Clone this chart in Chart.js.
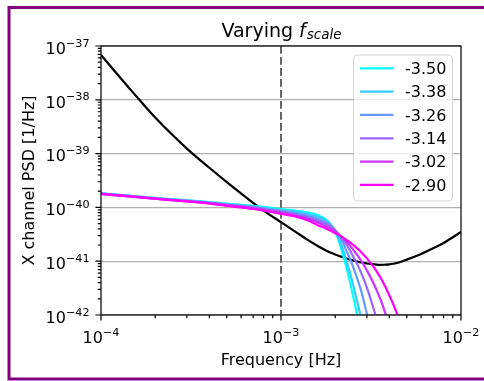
<!DOCTYPE html>
<html>
<head>
<meta charset="utf-8">
<script src="https://cdn.jsdelivr.net/npm/chart.js@4.4.1/dist/chart.umd.min.js"></script>
<style>
  html, body { margin: 0; padding: 0; background: #fff; }
  canvas { display: block; }
</style>
</head>
<body>
<canvas id="psdChart" width="484" height="381"></canvas>
<script>
// frequency grid [Hz]
const freqs = [1e-4, 1.5e-4, 2e-4, 3e-4, 4e-4, 5e-4, 6e-4, 7e-4, 8e-4, 1e-3,
    1.2e-3, 1.4e-3, 1.6e-3, 1.8e-3, 1.9e-3, 2.0e-3, 2.1e-3, 2.2e-3, 2.3e-3, 2.4e-3,
    2.5e-3, 2.6e-3, 2.7e-3, 2.8e-3, 3.0e-3, 3.2e-3, 3.4e-3, 3.6e-3, 3.8e-3, 4.0e-3,
    4.2e-3, 4.4e-3, 4.6e-3, 5e-3, 6e-3, 7e-3, 8e-3, 1e-2];

// black noise curve
const noisePsd = [6.80e-38, 1.39e-38, 4.67e-39, 1.24e-39, 5.45e-40, 2.94e-40, 1.81e-40, 1.21e-40, 8.73e-41, 5.31e-41,
    3.55e-41, 2.52e-41, 1.92e-41, 1.55e-41, 1.43e-41, 1.33e-41, 1.25e-41, 1.19e-41, 1.13e-41, 1.08e-41,
    1.04e-41, 1.00e-41, 9.70e-42, 9.46e-42, 9.06e-42, 8.80e-42, 8.61e-42, 8.53e-42, 8.61e-42, 8.72e-42,
    8.95e-42, 9.27e-42, 9.66e-42, 1.07e-41, 1.36e-41, 1.74e-41, 2.18e-41, 3.49e-41];

// signal curves, one per log10(f_scale)
const psd350 = [1.82e-40, 1.62e-40, 1.51e-40, 1.35e-40, 1.26e-40, 1.175e-40, 1.12e-40, 1.07e-40, 1.02e-40, 9.33e-41,
    8.71e-41, 8.13e-41, 7.24e-41, 5.75e-41, 4.68e-41, 3.47e-41, 2.34e-41, 1.38e-41, 8.13e-42, 4.57e-42,
    2.45e-42, 1.35e-42, 7.08e-43, 3.55e-43, 1.0e-43, null, null, null, null, null,
    null, null, null, null, null, null, null, null];
const psd338 = [1.82e-40, 1.62e-40, 1.48e-40, 1.35e-40, 1.23e-40, 1.15e-40, 1.10e-40, 1.05e-40, 9.77e-41, 8.91e-41,
    8.32e-41, 7.59e-41, 6.76e-41, 5.50e-41, 4.68e-41, 3.63e-41, 2.63e-41, 1.74e-41, 1.07e-41, 6.61e-42,
    3.98e-42, 2.34e-42, 1.38e-42, 8.13e-43, 2.82e-43, 1.0e-43, null, null, null, null,
    null, null, null, null, null, null, null, null];
const psd326 = [1.82e-40, 1.62e-40, 1.48e-40, 1.32e-40, 1.23e-40, 1.12e-40, 1.07e-40, 1.02e-40, 9.55e-41, 8.51e-41,
    7.76e-41, 7.08e-41, 6.17e-41, 5.13e-41, 4.57e-41, 3.80e-41, 3.02e-41, 2.29e-41, 1.62e-41, 1.175e-41,
    8.32e-42, 5.75e-42, 3.98e-42, 2.69e-42, 1.05e-42, 4.47e-43, 1.78e-43, 7.94e-44, null, null,
    null, null, null, null, null, null, null, null];
const psd314 = [1.78e-40, 1.58e-40, 1.45e-40, 1.32e-40, 1.20e-40, 1.12e-40, 1.05e-40, 1.00e-40, 9.33e-41, 8.32e-41,
    7.41e-41, 6.61e-41, 5.62e-41, 4.79e-41, 4.27e-41, 3.72e-41, 3.16e-41, 2.60e-41, 2.09e-41, 1.66e-41,
    1.29e-41, 1.00e-41, 7.76e-42, 5.89e-42, 3.24e-42, 1.66e-42, 8.32e-43, 4.17e-43, 2.00e-43, 1.0e-43,
    null, null, null, null, null, null, null, null];
const psd302 = [1.78e-40, 1.58e-40, 1.45e-40, 1.29e-40, 1.20e-40, 1.10e-40, 1.02e-40, 9.55e-41, 8.91e-41, 7.94e-41,
    7.08e-41, 6.17e-41, 5.25e-41, 4.37e-41, 3.98e-41, 3.55e-41, 3.09e-41, 2.75e-41, 2.34e-41, 2.00e-41,
    1.70e-41, 1.41e-41, 1.20e-41, 1.00e-41, 6.76e-42, 4.47e-42, 2.88e-42, 1.82e-42, 1.07e-42, 6.76e-43,
    4.27e-43, 2.69e-43, 1.70e-43, 7.94e-44, null, null, null, null];
const psd290 = [1.78e-40, 1.58e-40, 1.45e-40, 1.29e-40, 1.175e-40, 1.07e-40, 1.00e-40, 9.33e-41, 8.71e-41, 7.59e-41,
    6.76e-41, 5.75e-41, 4.68e-41, 3.98e-41, 3.63e-41, 3.31e-41, 3.05e-41, 2.78e-41, 2.51e-41, 2.28e-41,
    2.04e-41, 1.83e-41, 1.64e-41, 1.45e-41, 1.13e-41, 8.65e-42, 6.46e-42, 4.71e-42, 3.34e-42, 2.31e-42,
    1.60e-42, 1.08e-42, 7.26e-43, 3.33e-43, 5.5e-44, null, null, null];

const seriesLabels = ['-3.50', '-3.38', '-3.26', '-3.14', '-3.02', '-2.90'];
const seriesData = [psd350, psd338, psd326, psd314, psd302, psd290];
const seriesColors = ['#00ffff', '#33ccff', '#6699ff', '#9966ff', '#cc33ff', '#ff00ff'];

const xTicks = [1e-4, 1e-3, 1e-2];
const yTicks = [1e-42, 1e-41, 1e-40, 1e-39, 1e-38, 1e-37];
const markerFreq = 1e-3;

const FONT = '"DejaVu Sans", "Liberation Sans", sans-serif';

function toPoints(values) {
    return freqs.map((f, i) => ({ x: f, y: values[i] })).filter(p => p.y !== null);
}

const datasets = [];
seriesData.forEach((values, i) => {
    datasets.push({
        label: seriesLabels[i],
        data: toPoints(values),
        borderColor: seriesColors[i],
        borderWidth: 2.2,
        pointRadius: 0,
        cubicInterpolationMode: 'monotone',
        clip: 0,
        order: 6 - i
    });
});
datasets.push({
    label: 'noise',
    data: toPoints(noisePsd),
    borderColor: '#000',
    borderWidth: 2.2,
    pointRadius: 0,
    cubicInterpolationMode: 'monotone',
    clip: 0,
    order: 10
});
datasets.push({
    label: 'marker',
    data: [{ x: markerFreq, y: yTicks[yTicks.length - 1] }, { x: markerFreq, y: yTicks[0] }],
    borderColor: '#666666',
    borderWidth: 2,
    borderDash: [7.7, 3.3],
    pointRadius: 0,
    clip: 0,
    order: 20
});

// draws 10^exp with a raised exponent
function drawPow(ctx, exp, x, baseY, align) {
    const base = '10';
    const sup = '\u2212' + String(Math.abs(exp));
    ctx.font = '16px ' + FONT;
    const wb = ctx.measureText(base).width;
    ctx.font = '11.2px ' + FONT;
    const ws = ctx.measureText(sup).width;
    let left = x;
    if (align === 'center') left = x - (wb + ws) / 2;
    if (align === 'right') left = x - (wb + ws);
    ctx.textAlign = 'left';
    ctx.textBaseline = 'alphabetic';
    ctx.font = '16px ' + FONT;
    ctx.fillText(base, left, baseY);
    ctx.font = '11.2px ' + FONT;
    ctx.fillText(sup, left + wb, baseY - 7.3);
}

const decorPlugin = {
    id: 'decor',
    beforeDraw(chart) {
        const ctx = chart.ctx;
        ctx.save();
        ctx.fillStyle = '#fff';
        ctx.fillRect(0, 0, chart.width, chart.height);
        ctx.strokeStyle = '#800080';
        ctx.lineWidth = 3;
        ctx.strokeRect(9, 7.5, 520, 371.5);
        ctx.restore();
    },
    afterDraw(chart) {
        const ctx = chart.ctx;
        const a = chart.chartArea;
        const xs = chart.scales.x;
        const ys = chart.scales.y;
        ctx.save();

        // frame
        ctx.strokeStyle = '#000';
        ctx.lineWidth = 1.2;
        ctx.strokeRect(a.left, a.top, a.right - a.left, a.bottom - a.top);

        // ticks
        ctx.beginPath();
        xTicks.forEach((t, k) => {
            const px = xs.getPixelForValue(t);
            ctx.moveTo(px, a.bottom); ctx.lineTo(px, a.bottom + 5.6);
            if (k < xTicks.length - 1) {
                for (let m = 2; m < 10; m++) {
                    const mx = xs.getPixelForValue(t * m);
                    ctx.moveTo(mx, a.bottom); ctx.lineTo(mx, a.bottom + 3.2);
                }
            }
        });
        yTicks.forEach((t, k) => {
            const py = ys.getPixelForValue(t);
            ctx.moveTo(a.left, py); ctx.lineTo(a.left - 5.6, py);
            if (k < yTicks.length - 1) {
                for (let m = 2; m < 10; m++) {
                    const my = ys.getPixelForValue(t * m);
                    ctx.moveTo(a.left, my); ctx.lineTo(a.left - 3.2, my);
                }
            }
        });
        ctx.stroke();

        // tick labels
        ctx.fillStyle = '#000';
        xTicks.forEach(t => {
            drawPow(ctx, Math.round(Math.log10(t)), xs.getPixelForValue(t), 343.3, 'center');
        });
        yTicks.forEach(t => {
            drawPow(ctx, Math.round(Math.log10(t)), 89.5, ys.getPixelForValue(t) + 7.8, 'right');
        });

        // axis labels
        ctx.font = '16px ' + FONT;
        ctx.textAlign = 'center';
        ctx.textBaseline = 'alphabetic';
        ctx.fillText('Frequency [Hz]', (a.left + a.right) / 2, 365);
        ctx.save();
        ctx.translate(33.5, (a.top + a.bottom) / 2);
        ctx.rotate(-Math.PI / 2);
        ctx.fillText('X channel PSD [1/Hz]', 0, 0);
        ctx.restore();

        // title: Varying f_scale
        const t1 = 'Varying ';
        ctx.font = '19px ' + FONT;
        const w1 = ctx.measureText(t1).width;
        ctx.font = 'italic 19px ' + FONT;
        const w2 = ctx.measureText('f').width;
        ctx.font = 'italic 13.5px ' + FONT;
        const w3 = ctx.measureText('scale').width;
        let tx = (a.left + a.right) / 2 - (w1 + w2 + w3) / 2;
        ctx.textAlign = 'left';
        ctx.font = '19px ' + FONT;
        ctx.fillText(t1, tx, 36.7);
        ctx.font = 'italic 19px ' + FONT;
        ctx.fillText('f', tx + w1, 36.7);
        ctx.font = 'italic 13.5px ' + FONT;
        ctx.fillText('scale', tx + w1 + w2 + 1, 39.3);

        // legend
        const lx = 353.5, ly = 55, lw = 99, lh = 146;
        ctx.beginPath();
        ctx.roundRect(lx, ly, lw, lh, 4);
        ctx.fillStyle = 'rgba(255,255,255,0.8)';
        ctx.fill();
        ctx.strokeStyle = 'rgba(204,204,204,0.8)';
        ctx.lineWidth = 1;
        ctx.stroke();
        ctx.font = '16px ' + FONT;
        seriesLabels.forEach((lab, i) => {
            const ry = 68.3 + i * 23.33;
            ctx.strokeStyle = seriesColors[i];
            ctx.lineWidth = 2.2;
            ctx.beginPath();
            ctx.moveTo(360, ry); ctx.lineTo(393.5, ry);
            ctx.stroke();
            ctx.fillStyle = '#000';
            ctx.fillText(lab, 405, ry + 5.8);
        });
        ctx.restore();
    }
};

new Chart(document.getElementById('psdChart').getContext('2d'), {
    type: 'line',
    data: { datasets: datasets },
    options: {
        responsive: false,
        animation: false,
        devicePixelRatio: 1,
        layout: { padding: { left: 101, right: 23, top: 46, bottom: 66 } },
        scales: {
            x: {
                type: 'logarithmic',
                min: xTicks[0],
                max: xTicks[xTicks.length - 1],
                ticks: { display: false },
                grid: { display: false },
                border: { display: false },
                afterFit: s => { s.height = 0; }
            },
            y: {
                type: 'logarithmic',
                min: yTicks[0],
                max: yTicks[yTicks.length - 1],
                ticks: { display: false },
                grid: { color: '#b0b0b0', lineWidth: 1.2, drawTicks: false },
                border: { display: false },
                afterBuildTicks: s => { s.ticks = yTicks.map(v => ({ value: v })); },
                afterFit: s => { s.width = 0; }
            }
        },
        plugins: {
            legend: { display: false },
            tooltip: { enabled: false }
        }
    },
    plugins: [decorPlugin]
});
</script>
</body>
</html>
